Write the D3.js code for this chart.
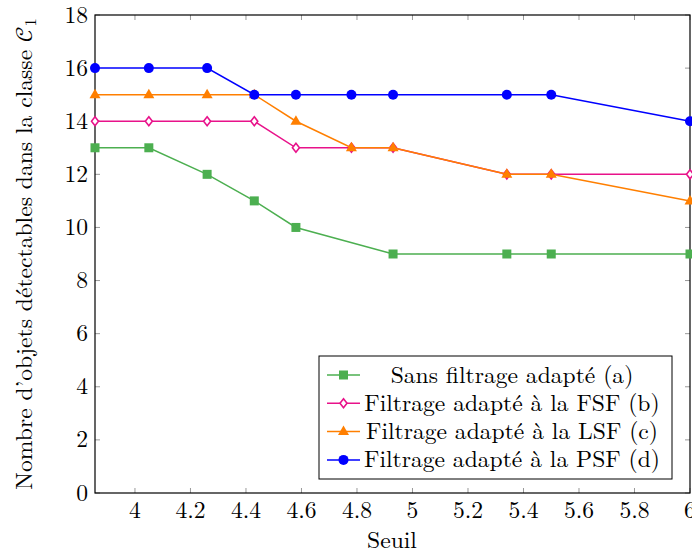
<!DOCTYPE html>
<html><head><meta charset="utf-8">
<script src="https://cdn.jsdelivr.net/npm/d3@7"></script>
<style>body{margin:0;background:#fff}svg{display:block}</style>
</head><body><svg id="c" width="692" height="554"></svg>
<script>
const thresholds = [3.856, 4.05, 4.26, 4.43, 4.58, 4.78, 4.93, 5.34, 5.5, 6.0];
const sansFiltrage = [13, 13, 12, 11, 10, null, 9, 9, 9, 9];
const filtrageFSF = [14, 14, 14, 14, 13, 13, 13, 12, 12, 12];
const filtrageLSF = [15, 15, 15, 15, 14, 13, 13, 12, 12, 11];
const filtragePSF = [16, 16, 16, 15, 15, 15, 15, 15, 15, 14];
const seriesNames = ["Sans filtrage adapté (a)", "Filtrage adapté à la FSF (b)", "Filtrage adapté à la LSF (c)", "Filtrage adapté à la PSF (d)"];
const xTicks = [4, 4.2, 4.4, 4.6, 4.8, 5, 5.2, 5.4, 5.6, 5.8, 6];
const yTicks = [0, 2, 4, 6, 8, 10, 12, 14, 16, 18];

const series = [
  {name: seriesNames[0], values: sansFiltrage, color: "#4caf50", marker: "square"},
  {name: seriesNames[1], values: filtrageFSF, color: "#e8128a", marker: "diamond"},
  {name: seriesNames[2], values: filtrageLSF, color: "#ff7f00", marker: "triangle"},
  {name: seriesNames[3], values: filtragePSF, color: "#0000ff", marker: "circle"}
];

const FF = "Latin Modern Roman";
const svg = d3.select("#c");
const L = 95, R = 690, T = 15, B = 493;
const x = d3.scaleLinear().domain([3.856, 6]).range([L, R]);
const y = d3.scaleLinear().domain([0, 18]).range([B, T]);
const fs = 23.6;

const tickC = "#999";
const g = svg.append("g");
xTicks.forEach(t => {
  g.append("line").attr("x1", x(t)).attr("x2", x(t)).attr("y1", B).attr("y2", B - 5).attr("stroke", tickC);
  g.append("line").attr("x1", x(t)).attr("x2", x(t)).attr("y1", T).attr("y2", T + 5).attr("stroke", tickC);
  g.append("text").attr("x", x(t)).attr("y", 518).attr("text-anchor", "middle").attr("font-family", FF).attr("font-size", fs).text(d3.format("")(t));
});
yTicks.forEach(t => {
  g.append("line").attr("x1", L).attr("x2", L + 5).attr("y1", y(t)).attr("y2", y(t)).attr("stroke", tickC);
  g.append("line").attr("x1", R).attr("x2", R - 5).attr("y1", y(t)).attr("y2", y(t)).attr("stroke", tickC);
  g.append("text").attr("x", 88).attr("y", y(t) + 7.5).attr("text-anchor", "end").attr("font-family", FF).attr("font-size", fs).text(t);
});

svg.append("rect").attr("x", L).attr("y", T).attr("width", R - L).attr("height", B - T)
  .attr("fill", "none").attr("stroke", "#000").attr("stroke-width", 1.2);

function drawMarker(sel, type, color, cx, cy) {
  if (type === "square") sel.append("rect").attr("x", cx - 4.5).attr("y", cy - 4.5).attr("width", 9).attr("height", 9).attr("fill", color);
  else if (type === "circle") sel.append("circle").attr("cx", cx).attr("cy", cy).attr("r", 5).attr("fill", color);
  else if (type === "triangle") sel.append("path").attr("d", `M${cx},${cy - 6}L${cx + 5.5},${cy + 3.5}L${cx - 5.5},${cy + 3.5}Z`).attr("fill", color);
  else if (type === "diamond") sel.append("path").attr("d", `M${cx},${cy - 4.5}L${cx + 3.5},${cy}L${cx},${cy + 4.5}L${cx - 3.5},${cy}Z`).attr("fill", "#fff").attr("stroke", color).attr("stroke-width", 1.6);
}

const line = d3.line().x(d => x(d[0])).y(d => y(d[1]));
const plot = svg.append("g");
series.forEach(s => {
  const pts = thresholds.map((t, i) => [t, s.values[i]]).filter(d => d[1] !== null);
  plot.append("path").attr("d", line(pts)).attr("fill", "none").attr("stroke", s.color).attr("stroke-width", 1.5);
  pts.forEach(p => drawMarker(plot, s.marker, s.color, x(p[0]), y(p[1])));
});

const lg = svg.append("g");
lg.append("rect").attr("x", 319).attr("y", 356).attr("width", 353).attr("height", 123).attr("fill", "#fff").attr("stroke", "#000");
series.forEach((s, i) => {
  const cy = 375 + i * 28.3;
  lg.append("line").attr("x1", 327).attr("x2", 360).attr("y1", cy).attr("y2", cy).attr("stroke", s.color).attr("stroke-width", 1.5);
  drawMarker(lg, s.marker, s.color, 343.5, cy);
  lg.append("text").attr("x", 512).attr("y", cy + 7.5).attr("text-anchor", "middle").attr("font-family", FF).attr("font-size", fs).text(s.name);
});

svg.append("text").attr("x", 392).attr("y", 548).attr("text-anchor", "middle").attr("font-family", FF).attr("font-size", fs).text("Seuil");
const yl = svg.append("text").attr("transform", "translate(32,254) rotate(-90)").attr("text-anchor", "middle").attr("font-family", FF).attr("font-size", fs);
yl.append("tspan").text("Nombre d’objets détectables dans la classe ");
yl.append("tspan").attr("font-family", "Latin Modern Math").text("𝒞");
yl.append("tspan").attr("font-size", 16.5).attr("dy", 4).text("1");
</script></body></html>
